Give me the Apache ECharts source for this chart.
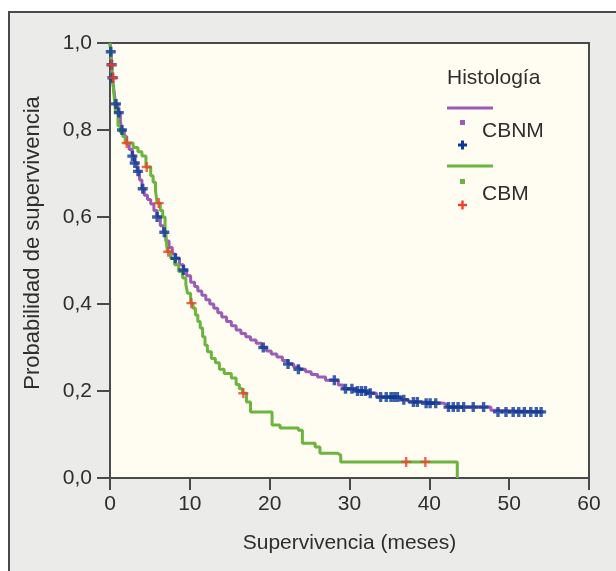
<!DOCTYPE html>
<html>
<head>
<meta charset="utf-8">
<script src="https://cdn.jsdelivr.net/npm/echarts@6/dist/echarts.min.js"></script>
<style>
  html, body { margin: 0; padding: 0; background: #ffffff; }
  #frame { position: absolute; left: 8px; top: 11px; width: 700px; height: 700px;
           background: #ebebea; border-left: 2px solid #4a4a4a; border-top: 2px solid #4a4a4a; box-sizing: border-box; }
  #chart { position: absolute; left: 0; top: 0; width: 616px; height: 571px; }
</style>
</head>
<body>
<div id="frame"></div>
<div id="chart"></div>
<script>
// ---- Data ----
var xTicks = [0, 10, 20, 30, 40, 50, 60];
var yTickLabels = ['0,0', '0,2', '0,4', '0,6', '0,8', '1,0'];

// CBNM (purple) Kaplan-Meier steps
var cbnmTime = [0, 0.1, 0.2, 0.3, 0.5, 0.7, 1.0, 1.3, 1.5, 1.8, 2.1, 2.4, 2.8, 3.1, 3.4, 3.7, 4.0, 4.3, 4.7, 5.1, 5.5, 5.9, 6.3, 6.7, 7.0, 7.4, 7.8, 8.2, 8.7, 9.2, 9.6, 10.1, 10.6, 11.0, 11.5, 12.0, 12.5, 13.0, 13.5, 14.0, 14.6, 15.2, 15.8, 16.4, 17.0, 17.6, 18.3, 19.0, 19.6, 20.2, 20.9, 21.6, 22.3, 23.0, 23.7, 24.5, 25.2, 26.0, 27.0, 28.6, 29.2, 30.8, 32.2, 33.4, 36.5, 37.4, 39.2, 41.8, 42.2, 47.7, 48.2, 54.3];
var cbnmSurv = [1.0, 0.98, 0.95, 0.92, 0.89, 0.86, 0.84, 0.82, 0.80, 0.785, 0.768, 0.755, 0.74, 0.724, 0.705, 0.685, 0.665, 0.65, 0.64, 0.63, 0.615, 0.60, 0.58, 0.565, 0.545, 0.53, 0.515, 0.505, 0.49, 0.478, 0.465, 0.45, 0.44, 0.43, 0.42, 0.41, 0.40, 0.39, 0.38, 0.37, 0.36, 0.35, 0.34, 0.332, 0.325, 0.317, 0.31, 0.30, 0.292, 0.285, 0.278, 0.27, 0.262, 0.255, 0.25, 0.244, 0.238, 0.232, 0.225, 0.214, 0.205, 0.20, 0.195, 0.186, 0.18, 0.175, 0.172, 0.168, 0.163, 0.156, 0.152, 0.152];
// CBNM censored observations
var cbnmCensTime = [0.1, 0.2, 0.3, 0.75, 1.1, 1.5, 2.8, 3.1, 3.5, 4.1, 5.9, 6.8, 8.2, 9.2, 19.2, 22.3, 23.6, 28.1, 29.5, 30.3, 31.0, 31.5, 32.0, 32.6, 33.9, 34.6, 35.2, 35.6, 36.0, 36.8, 38.0, 38.5, 39.6, 40.1, 40.8, 42.4, 43.0, 43.6, 44.3, 45.5, 46.8, 48.6, 49.6, 50.5, 51.2, 51.9, 52.7, 53.4, 54.0];
var cbnmCensSurv = [0.98, 0.95, 0.92, 0.86, 0.84, 0.80, 0.74, 0.724, 0.705, 0.665, 0.60, 0.565, 0.505, 0.478, 0.30, 0.262, 0.25, 0.225, 0.205, 0.205, 0.20, 0.20, 0.20, 0.195, 0.186, 0.186, 0.186, 0.186, 0.186, 0.18, 0.175, 0.175, 0.172, 0.172, 0.172, 0.163, 0.163, 0.163, 0.163, 0.163, 0.163, 0.152, 0.152, 0.152, 0.152, 0.152, 0.152, 0.152, 0.152];

// CBM (green) Kaplan-Meier steps
var cbmTime = [0, 0.1, 0.2, 0.3, 0.5, 0.7, 1.0, 1.3, 1.6, 1.9, 2.9, 3.5, 4.0, 4.5, 5.1, 5.4, 5.7, 5.9, 6.3, 6.6, 6.9, 7.0, 7.1, 7.2, 7.6, 8.1, 8.6, 9.1, 9.5, 9.7, 10.1, 10.4, 10.7, 11.0, 11.3, 11.6, 11.9, 12.2, 12.7, 13.2, 13.7, 14.3, 15.2, 15.8, 16.2, 16.6, 17.1, 17.6, 20.3, 21.3, 23.6, 24.1, 25.7, 26.3, 28.5, 28.9, 43.5, 43.5];
var cbmSurv = [1.0, 0.98, 0.95, 0.92, 0.88, 0.84, 0.81, 0.795, 0.785, 0.77, 0.76, 0.75, 0.74, 0.715, 0.695, 0.68, 0.66, 0.632, 0.615, 0.60, 0.575, 0.555, 0.535, 0.52, 0.505, 0.49, 0.475, 0.46, 0.445, 0.425, 0.402, 0.39, 0.375, 0.36, 0.345, 0.325, 0.305, 0.29, 0.275, 0.265, 0.25, 0.24, 0.23, 0.215, 0.205, 0.195, 0.175, 0.152, 0.122, 0.115, 0.11, 0.08, 0.071, 0.057, 0.053, 0.037, 0.037, 0.0];
// CBM censored observations
var cbmCensTime = [0.2, 0.4, 2.1, 4.6, 6.1, 7.3, 10.2, 16.7, 37.1, 39.5];
var cbmCensSurv = [0.95, 0.92, 0.77, 0.715, 0.632, 0.52, 0.402, 0.195, 0.037, 0.037];

// ---- Build ----
function pairs(a, b) { return a.map(function (v, i) { return [v, b[i]]; }); }

var PURPLE = '#9a5cb4', GREEN = '#6cb33f', BLUE = '#0b3a96', RED = '#ef4029';
var plusThick = 'path://M3.3,0H6.7V3.3H10V6.7H6.7V10H3.3V6.7H0V3.3H3.3Z';
var plusThin = 'path://M3.8,0H6.2V3.8H10V6.2H6.2V10H3.8V6.2H0V3.8H3.8Z';
var FONT = 'Liberation Sans';
var TXT = '#2e2e2e';
var FS = 21;

function plusRects(cx, cy, size, thick, color) {
  var h = size / 2, t = thick / 2;
  return [
    { type: 'rect', shape: { x: cx - h, y: cy - t, width: size, height: thick }, style: { fill: color } },
    { type: 'rect', shape: { x: cx - t, y: cy - h, width: thick, height: size }, style: { fill: color } }
  ];
}

var legendGraphics = [
  { type: 'text', x: 447, y: 78, style: { text: 'Histología', fontSize: FS, fill: TXT, fontFamily: FONT, verticalAlign: 'middle' } },
  { type: 'line', shape: { x1: 447, y1: 108, x2: 493, y2: 108 }, style: { stroke: PURPLE, lineWidth: 3 } },
  { type: 'rect', shape: { x: 460, y: 120, width: 5, height: 5 }, style: { fill: PURPLE } },
  { type: 'text', x: 482, y: 131, style: { text: 'CBNM', fontSize: FS, fill: TXT, fontFamily: FONT, verticalAlign: 'middle' } },
  { type: 'line', shape: { x1: 447, y1: 166, x2: 493, y2: 166 }, style: { stroke: GREEN, lineWidth: 3 } },
  { type: 'rect', shape: { x: 460, y: 179, width: 5, height: 5 }, style: { fill: GREEN } },
  { type: 'text', x: 482, y: 194, style: { text: 'CBM', fontSize: FS, fill: TXT, fontFamily: FONT, verticalAlign: 'middle' } },
  { type: 'text', x: 33, y: 243, rotation: Math.PI / 2,
    style: { text: 'Probabilidad de supervivencia', fontSize: 22, fill: TXT, fontFamily: FONT, align: 'center', verticalAlign: 'middle' } }
].concat(plusRects(462.5, 145, 9, 3, BLUE)).concat(plusRects(462.5, 205, 9, 2.4, RED));

var chart = echarts.init(document.getElementById('chart'), null, { renderer: 'canvas' });
chart.setOption({
  animation: false,
  backgroundColor: 'transparent',
  textStyle: { fontFamily: FONT },
  grid: { left: 110, right: 27, top: 43, bottom: 93, show: true, backgroundColor: '#fffcf1', borderColor: '#4a4a4a', borderWidth: 2 },
  xAxis: {
    type: 'value', min: 0, max: 60, interval: 10,
    name: 'Supervivencia (meses)', nameLocation: 'middle', nameGap: 55,
    nameTextStyle: { fontSize: FS, color: TXT, fontFamily: FONT },
    axisLine: { lineStyle: { color: '#4a4a4a', width: 2 } },
    axisTick: { length: 12, lineStyle: { color: '#4a4a4a', width: 2 } },
    axisLabel: { fontSize: FS, color: TXT, margin: 16, fontFamily: FONT },
    splitLine: { show: false }
  },
  yAxis: {
    type: 'value', min: 0, max: 1, interval: 0.2,
    axisLine: { lineStyle: { color: '#4a4a4a', width: 2 } },
    axisTick: { length: 13, lineStyle: { color: '#4a4a4a', width: 2 } },
    axisLabel: { fontSize: FS, color: TXT, margin: 18, fontFamily: FONT,
      formatter: function (v) { return yTickLabels[Math.round(v / 0.2)]; } },
    splitLine: { show: false }
  },
  series: [
    { name: 'CBNM', type: 'line', step: 'end', showSymbol: false, data: pairs(cbnmTime, cbnmSurv),
      lineStyle: { color: PURPLE, width: 3 }, z: 2 },
    { name: 'CBM', type: 'line', step: 'end', showSymbol: false, data: pairs(cbmTime, cbmSurv),
      lineStyle: { color: GREEN, width: 3 }, z: 3 },
    { name: 'CBNM cens', type: 'scatter', symbol: plusThick, symbolSize: 10, data: pairs(cbnmCensTime, cbnmCensSurv),
      itemStyle: { color: BLUE }, z: 4 },
    { name: 'CBM cens', type: 'scatter', symbol: plusThin, symbolSize: 10, data: pairs(cbmCensTime, cbmCensSurv),
      itemStyle: { color: RED }, z: 5 }
  ],
  graphic: legendGraphics
});
</script>
</body>
</html>
